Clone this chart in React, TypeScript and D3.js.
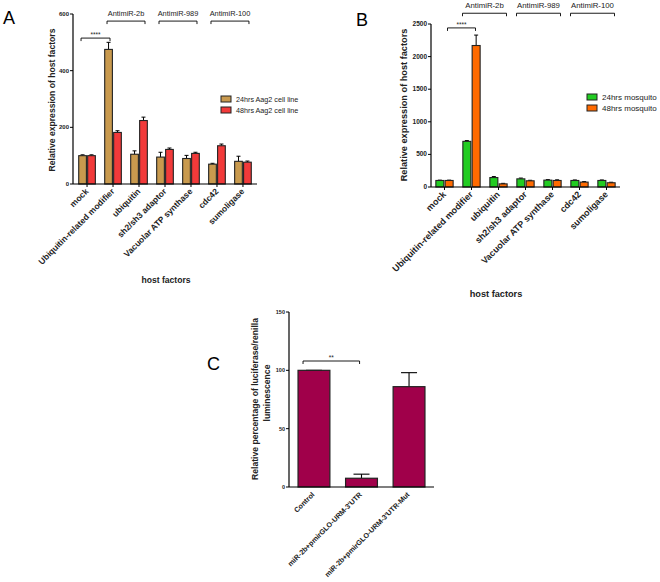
import React from 'react';
import * as d3 from 'd3';

// host factor categories (panels A and B)
const hostFactors = ['mock', 'Ubiquitin-related modifier', 'ubiquitin', 'sh2/sh3 adaptor', 'Vacuolar ATP synthase', 'cdc42', 'sumoligase'];

// panel A - Aag2 cell line
const aag2Series = ['24hrs Aag2 cell line', '48hrs Aag2 cell line'];
const aag2_24 = [100, 475, 105, 95, 90, 70, 80];
const aag2_24Err = [3, 25, 12, 17, 11, 3, 18];
const aag2_48 = [100, 182, 224, 122, 108, 135, 77];
const aag2_48Err = [3, 6, 12, 5, 4, 6, 4];
const aag2Ticks = [0, 200, 400, 600];

// panel B - mosquito
const mosqSeries = ['24hrs mosquito', '48hrs mosquito'];
const mosq24 = [100, 700, 145, 125, 105, 100, 100];
const mosq24Err = [5, 12, 15, 12, 8, 8, 8];
const mosq48 = [100, 2170, 48, 95, 100, 75, 65];
const mosq48Err = [5, 160, 8, 8, 10, 8, 8];
const mosqTicks = [0, 500, 1000, 1500, 2000, 2500];

// antimiR groups (index of first / last host factor covered)
const antimirLabels = ['AntimiR-2b', 'AntimiR-989', 'AntimiR-100'];
const antimirFrom = [1, 3, 5];
const antimirTo = [2, 4, 6];

// panel C - luciferase
const lucCats = ['Control', "miR-2b+pmirGLO-URM-3'UTR", "miR-2b+pmirGLO-URM-3'UTR-Mut"];
const lucValues = [100, 7.5, 86];
const lucErr = [0, 3.5, 12];
const lucTicks = [0, 50, 100, 150];

const FONT = '"Liberation Sans", Arial, sans-serif';

function YAxis({ y, x, ticks, fontSize }) {
  return (
    <g>
      <line x1={x} x2={x} y1={y(ticks[0])} y2={y(ticks[ticks.length - 1])} stroke="#000" strokeWidth={1.2} />
      {ticks.map(t => (
        <g key={t}>
          <line x1={x - 3} x2={x} y1={y(t)} y2={y(t)} stroke="#000" strokeWidth={1} />
          <text x={x - 4} y={y(t) + 2} textAnchor="end" fontSize={fontSize} fontWeight="bold" fontFamily={FONT} fill="#222">{t}</text>
        </g>
      ))}
    </g>
  );
}

function Bracket({ x1, x2, y, label, labelDy, fontSize }) {
  return (
    <g>
      <path d={`M${x1},${y + 3}V${y}H${x2}V${y + 3}`} fill="none" stroke="#000" strokeWidth={0.9} />
      <text x={(x1 + x2) / 2} y={y + labelDy} textAnchor="middle" fontSize={fontSize} fontFamily={FONT} fill="#222">{label}</text>
    </g>
  );
}

function GroupedPanel({ letter, letterX, letterY, x0, x1, yTop, yBottom, max, ticks, tickFont, s1, e1, s2, e2, colors, series, padO, legendX, legendY, legendFont, titleX, titleY, titleFont, catFont, xTitleX, xTitleY, sigY, antY, antL, antR, antFont, sigL, sigR }) {
  const x = d3.scaleBand().domain(hostFactors).range([x0, x1]).paddingInner(0.36).paddingOuter(padO);
  const sub = d3.scaleBand().domain(['a', 'b']).range([0, x.bandwidth()]).paddingInner(0.14);
  const y = d3.scaleLinear().domain([0, max]).range([yBottom, yTop]);
  const vals = [s1, s2];
  const errs = [e1, e2];
  const keys = ['a', 'b'];
  const cx = (c) => x(c) + x.bandwidth() / 2;
  return (
    <g>
      <text x={letterX} y={letterY} fontSize={18} fontFamily={FONT}>{letter}</text>
      {hostFactors.map((c, i) => (
        <g key={c}>
          {keys.map((k, j) => {
            const bx = x(c) + sub(k);
            const bw = sub.bandwidth();
            const v = vals[j][i];
            const ev = v + errs[j][i];
            return (
              <g key={k}>
                <line x1={bx + bw / 2} x2={bx + bw / 2} y1={y(v)} y2={y(ev)} stroke="#000" strokeWidth={1} />
                <line x1={bx + bw / 2 - 2} x2={bx + bw / 2 + 2} y1={y(ev)} y2={y(ev)} stroke="#000" strokeWidth={1} />
                <rect x={bx} y={y(v)} width={bw} height={y(0) - y(v)} fill={colors[j]} stroke="#222" strokeWidth={1.1} />
              </g>
            );
          })}
        </g>
      ))}
      <line x1={x0} x2={x1} y1={y(0)} y2={y(0)} stroke="#000" strokeWidth={1.2} />
      {hostFactors.map(c => (
        <g key={c}>
          <line x1={cx(c)} x2={cx(c)} y1={y(0)} y2={y(0) + 3} stroke="#000" strokeWidth={1} />
          <text transform={`translate(${cx(c) + 2},${y(0) + 8}) rotate(-45)`} textAnchor="end" fontSize={catFont} fontWeight="bold" fontFamily={FONT} fill="#222">{c}</text>
        </g>
      ))}
      <YAxis y={y} x={x0} ticks={ticks} fontSize={tickFont} />
      <text transform={`translate(${titleX},${titleY}) rotate(-90)`} textAnchor="middle" fontSize={titleFont} fontWeight="bold" fontFamily={FONT} fill="#222">Relative expression of host factors</text>
      <text x={xTitleX} y={xTitleY} textAnchor="middle" fontSize={titleFont} fontWeight="bold" fontFamily={FONT} fill="#222">host factors</text>
      {series.map((s, j) => (
        <g key={s}>
          <rect x={legendX} y={legendY + j * 11 - 3} width={10} height={6} fill={colors[j]} stroke="#222" strokeWidth={1} />
          <text x={legendX + 15} y={legendY + j * 11 + 2.5} fontSize={legendFont} fontFamily={FONT} fill="#222">{s}</text>
        </g>
      ))}
      <Bracket x1={cx(hostFactors[0]) + sigL} x2={cx(hostFactors[1]) + sigR} y={y(sigY)} label="****" labelDy={-1} fontSize={6.5} />
      {antimirLabels.map((l, i) => (
        <Bracket key={l} x1={cx(hostFactors[antimirFrom[i]]) + antL} x2={cx(hostFactors[antimirTo[i]]) + antR} y={y(antY)} label={l} labelDy={-5} fontSize={antFont} />
      ))}
    </g>
  );
}

function LucPanel() {
  const x = d3.scaleBand().domain(lucCats).range([289, 434]).paddingInner(0.33).paddingOuter(0.19);
  const y = d3.scaleLinear().domain([0, 150]).range([487, 312]);
  const color = '#A0004A';
  return (
    <g>
      <text x={207} y={370} fontSize={18} fontFamily={FONT}>C</text>
      {lucCats.map((c, i) => {
        const bx = x(c);
        const bw = x.bandwidth();
        const v = lucValues[i];
        const ev = v + lucErr[i];
        return (
          <g key={c}>
            <line x1={bx + bw / 2} x2={bx + bw / 2} y1={y(v)} y2={y(ev)} stroke="#000" strokeWidth={1.1} />
            <line x1={bx + bw / 2 - 8} x2={bx + bw / 2 + 8} y1={y(ev)} y2={y(ev)} stroke="#000" strokeWidth={1.1} />
            <rect x={bx} y={y(v)} width={bw} height={y(0) - y(v)} fill={color} stroke="#222" strokeWidth={1.2} />
            <text transform={`translate(${bx + bw / 2 + 1},${y(0) + 8}) rotate(-45)`} textAnchor="end" fontSize={7.2} fontWeight="bold" fontFamily={FONT} fill="#222">{c}</text>
          </g>
        );
      })}
      <line x1={289} x2={434} y1={y(0)} y2={y(0)} stroke="#000" strokeWidth={1.2} />
      <YAxis y={y} x={289} ticks={lucTicks} fontSize={5.5} />
      <Bracket x1={x(lucCats[0]) + 5} x2={x(lucCats[1]) + 14} y={y(108)} label="**" labelDy={-1} fontSize={6.5} />
      <g fontSize={8.6} fontWeight="bold" fontFamily={FONT} fill="#222" textAnchor="middle">
        <text transform="translate(258,399) rotate(-90)">Relative percentage of luciferase/renilla</text>
        <text transform="translate(270,393) rotate(-90)">luminescence</text>
      </g>
    </g>
  );
}

export default function App() {
  return (
    <svg width={660} height={582} style={{ position: 'absolute', left: 0, top: 0, background: '#fff' }}>
      <GroupedPanel
        letter="A" letterX={3} letterY={24}
        x0={73} x1={257} yTop={14} yBottom={184} max={600} ticks={aag2Ticks} tickFont={6}
        s1={aag2_24} e1={aag2_24Err} s2={aag2_48} e2={aag2_48Err}
        colors={['#C99A4E', '#F23A3A']} series={aag2Series} padO={0.22}
        legendX={221} legendY={99} legendFont={7.2}
        titleX={55} titleY={100} titleFont={8.6} catFont={8.5} xTitleX={166} xTitleY={283}
        sigY={515} antY={575} antL={-6} antR={6} antFont={7.4} sigL={-6} sigR={-3}
      />
      <GroupedPanel
        letter="B" letterX={356} letterY={26}
        x0={431} x1={620} yTop={24} yBottom={187} max={2500} ticks={mosqTicks} tickFont={6.5}
        s1={mosq24} e1={mosq24Err} s2={mosq48} e2={mosq48Err}
        colors={['#22CC22', '#FF6A00']} series={mosqSeries} padO={0.18}
        legendX={587} legendY={97} legendFont={8}
        titleX={407} titleY={105} titleFont={9.2} catFont={9} xTitleX={496} xTitleY={297}
        sigY={2440} antY={2665} antL={-9} antR={8} antFont={7.8} sigL={3} sigR={4}
      />
      <LucPanel />
    </svg>
  );
}
